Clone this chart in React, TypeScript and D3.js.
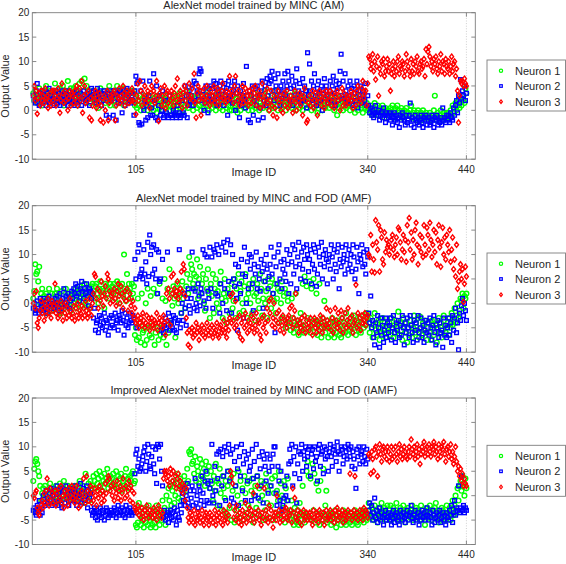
import React from 'react';
import * as d3 from 'd3';

// ---- chart text ----
const panelTitles = [
  'AlexNet model trained by MINC (AM)',
  'AlexNet model trained by MINC and FOD (AMF)',
  'Improved AlexNet model trained by MINC and FOD (IAMF)',
];
const seriesNames = ['Neuron 1', 'Neuron 2', 'Neuron 3'];
const seriesColors = ['#00ff00', '#0000ff', '#ff0000'];
const xTicks = [105, 340, 440];
const yTicks = [-10, -5, 0, 5, 10, 15, 20];
const xDomain = [0, 449];
const yDomain = [-10, 20];

// ---- AM ----
const am_n1 = [
  3.5,2,4,2.5,1.5,3,4.5,2,3,1,2.5,4,3,5,2,3.5,1.5,4,2.5,3,
  4,2,5.5,3,1.5,3.5,2.5,4.5,2,3,5,1,3.5,4,2,6,3,2.5,4.5,1.5,
  3,4.5,2,5,3.5,1,4,5.5,2.5,6,3,4,6.5,2,5,3.5,4,2.5,1.5,3,
  2.5,4,1.5,3,2,3.5,0.5,2,4.5,1,3,2.5,4,1.5,3,2,3.5,5,1,2.5,
  3,4,2,1,3.5,5,2.5,1.5,4,3,2,4.5,1,3,2.5,4,1.5,3.5,2,4,
  2,3.5,4,1,2.5,0.5,2,1,3,0,1.5,2.5,0.5,3,1,2,0,1.5,3,0.5,
  1,2,0,2.5,1.5,-0.5,3,1,0.5,2,1.5,0,2.5,1,3,0.5,1.5,2,0,1,
  2,0.5,1,3,1.5,0,2.5,1,3.5,0.5,2,1.5,0,3,1,2,4,0.5,1.5,2.5,
  1,3,0,2,1.5,2.5,0.5,3.5,1,2,0,1.5,3,0.5,2.5,1,2,4,0,1.5,
  2,0.5,1.5,3,1,0,2.5,1,3.5,0.5,2,1.5,0,1,3,2,0.5,2.5,1,0,
  1.5,0,2,3,0.5,1,2.5,-0.5,1.5,3,0,2,1,2.5,0.5,1.5,3,1,0,2,
  1,2.5,0,1.5,3.5,0.5,2,1,3,0,1.5,2.5,1,0.5,2,4,1,3,1.5,0,
  2,1,3,0.5,1.5,4,2.5,1,0,2,3,1.5,0.5,2.5,1,3.5,0,2,1,1.5,
  3,1,0.5,2,1.5,3.5,0,2.5,1,2,0.5,3,1.5,0,2,1,2.5,4,0.5,1.5,
  1,2.5,0,1.5,3,0.5,2,1,-0.5,2,3,1,1.5,0,2.5,1,0.5,3,1.5,2,
  0.5,2,1,3,1.5,0,2.5,1,-1,2,0.5,1.5,3,1,0,2,1.5,0.5,2.5,1,
  1.5,0,2,1,0.5,2.5,-0.5,1,2,0,1.5,3,0.5,1,-0.5,2,1,0.5,1.5,0,
  0.5,-0.5,1,0,-1,0.5,1.5,-0.5,0,1,-1,0.5,0,-0.5,1,0,-1.5,0.5,0,-0.5,
  0,-1,0.5,-0.5,1,-1.5,0,0.5,-1,1,-0.5,0,-1,0.5,-1.5,-0.5,0,-1,0.5,-0.5,
  -0.5,-1,0,1,-1.5,-0.5,0,-1,-2,-0.5,0,-1.5,-1,-0.5,-2,0,-1,-1.5,-0.5,-1,
  -1,-1.5,-0.5,-2,-1,-1.5,0,3,-1,-2,-0.5,-1.5,-1,0,-1.5,-2,-0.5,-1,-1.5,-0.5,
  -1,-0.5,-1.5,0,-1,1,-0.5,0.5,1.5,0,1,2,0.5,2.5,1,3,2,1.5,4.5,3.5,
];
const am_n2 = [
  3,2,1.5,4,5.5,2.5,1,3.5,2,4,1.5,3,2.5,1,3.5,2,4.5,1.5,3,2,
  2.5,1,3,4,2,1.5,3.5,1,2.5,4,2,3,1.5,3.5,2.5,1,4,2,3,1.5,
  2,3.5,1,2.5,4,1.5,3,2,3.5,1,2.5,4,3,1.5,2,3.5,2.5,1,3,4.5,
  3,4,2,3.5,1.5,4.5,3,2.5,4,1,3.5,2,4,3,-1,2.5,3.5,-1.5,4,2,
  3,-1,4,2.5,-2,3.5,1.5,4,3,2,-0.5,3.5,4,1,2.5,4.5,3,2,3.5,1.5,
  3,2,-1,4,7,5.5,6,-2.5,-3,4,-2.8,6,0,2,-2,1,-1.5,3,6,-1,
  0.5,-1,7.5,2,-1.5,5,-2,1,3,-1,0,4,-1.5,-1,2,-0.5,-1,-1.5,3,-1,
  -1,-1.5,0,-1,-0.5,-1.5,1,-1,-0.5,-1.5,-1,2,-0.5,-1,5,3,-1.5,1,4,2,
  3,5,1,6,2,5.5,4,3,7.5,8.5,8,2,4,0,1.5,5,3,-0.5,4.5,2,
  5,3,4.5,6,2,5.5,1,4,3,5,6,2.5,4,1,5.5,3,4.5,-1,6,2,
  3,5,1.5,4,6,0,3.5,5,2,-1.5,4,1,3,5.5,2,0.5,9,3,-2,4,
  -2.5,3,5,-1,2,4.5,1,5,-2,3,0.5,4,6,-1.5,2,5,1,6.5,3,5.5,
  7,6,8,4,2,6.5,5,3,7.5,4,1,5,2.5,6,4,7.5,3,5,8,6,
  2,4.5,7,1,5,3,6,8.5,2.5,4,5.5,1.5,3.5,6.5,2,5,4,0.5,11.8,3,
  9.5,4,6,2,5,7.5,3,1,4.5,6,3.5,2,5,0,4,6.5,2.5,5,3,1.5,
  4,6,2,5,7,3.5,1,6,4.5,2,5.5,8,11.5,3,6,2.5,7.5,4,1.5,5,
  3,6,2,4.5,1,5,3.5,2,6,0.5,4,2.5,5,1.5,3,4,2,5.5,1,3,
  1,-0.5,0.5,-1,0,-1.5,-0.5,1,-1,-0.5,0,-2,-1,-0.5,-1.5,0.5,-1,-2.5,-0.5,-1,
  -1.5,-0.5,-2,-1,-3,-1.5,-0.5,-2,-1,-2.5,-1.5,-3.5,-1,-2,-0.5,-1.5,-2,-3,-1,-2.5,
  -2,-1,1.5,-3,-1.5,-2,-3.5,-1,-2,-2.5,-1.5,-3,-2,-1,-2.5,-3.5,-1.5,-2,-1,-3,
  -2,-1.5,-3,-2.5,-1,-2,-3.5,-1.5,-2,-1,-3,-2,-2.5,-1.5,-3,0.5,-2,-1.5,-2.5,-1,
  -2,-1,-2.5,-0.5,-1.5,-2,0.5,-1,1,2,-0.5,3,1.5,6.3,2.5,4,3,5,2,3.5,
];
const am_n3 = [
  3,5,2,4,-0.7,2.5,3.5,1,4,2,3,1.5,4.5,2.5,3,0.5,2,3.5,1,4,
  2,4,3,1,2.5,4.5,3,-0.5,2,5.5,3.5,1.5,4,2,3,0,2.5,4,1,3.5,
  3,1.5,4,2.5,5,1,3,4.5,2,6,-0.5,3,5,1.5,3.5,2,4,-1.5,2.5,-2,
  1,3,2,4,0.5,2.5,1.5,3.5,-2,1,2.5,-2.5,3,0,2,4,-2,1.5,3,2.5,
  2,3.5,4,-2,1,3,2.5,4.5,1.5,3,2,5,3.5,1,2.5,4,3,1.5,3.5,2,
  4.5,2,3.5,1.5,-0.8,3,5.5,2,6,4,1,3.5,2.5,5,1.5,3,4,2,0.5,3.5,
  5,2,4,1.5,3,6,2.5,-2.2,3.5,4.5,1,3,2,5,0.5,3.5,4,1.5,3,2,
  4,2.5,1,3.5,5,2,6.5,3,1.5,4,2.5,0.5,3.5,5,2,4,1,3,5.5,2.5,
  3,4.5,2,7.5,1.5,-1.5,3.5,5,2,4,-1,3,2.5,4.5,1.5,3,5,2,3.5,1,
  4,2,3,5,1.5,3.5,2.5,4.5,1,3,2,4,5.5,2.5,3,1.5,4,2,3.5,7,
  2.5,4,3,1.5,5,7,3.5,2,4,1,3,2.5,5,1.5,3.5,4.5,2,3,1,4,
  3,1.5,4.5,2,3.5,5,1,3,2.5,4,0.5,3,5.5,2,1,3.5,2.5,4.5,1.5,0,
  2,4,1,-1,3,0.5,2.5,-1.5,4,1.5,3,0,2,-0.5,3.5,1,2.5,4,0.5,2,
  1,3,2,-0.5,2.5,4,1.5,0,3,2,3.5,1,2.5,-1,3,4.5,2,-2.5,-2,1.5,
  3,1,2.5,4,0.5,2,3.5,1.5,-1,2.5,4,3,1,2,3.5,0.5,2.5,4,1.5,3,
  2,4,1,3.5,2.5,0.5,3,1.5,4,2,3,0,2.5,4.5,1,3.5,2,1,3,2.5,
  1.5,3,4,2,0.5,3.5,2.5,1,4,5,2,3,1.5,4.5,6,2.5,3.5,4,1,5.5,
  11,10.5,8.5,9.5,11.5,8,10,6.3,9,11,3,8.5,7.5,10,9.5,10.5,7,8,9,10.5,
  8,9.5,4,7.5,8.5,10,7,9,8,10,11,7.5,9,8.5,10,9.5,7,8,11.5,10,
  9,8,7,10.5,8,9.5,7.5,10,9,11,8,7.5,9.5,10,8.5,9,10.5,7,12.5,9.5,
  12,13,11,9,10,8,10.5,9.5,11,8.5,7.5,10,9,11.5,8,10,9.5,7.5,10.5,9,
  8.5,10,7.5,9,11,8,9.5,10,7,8.5,4,-2.5,3,6,5.5,6,5,6.5,5.5,5,
];

// ---- AMF ----
const amf_n1 = [
  1,2.5,8,6,6.5,4.5,7.5,0,2,3,-1,1.5,0.5,2,-2,1,3,0,-1.5,2,
  0.5,-1,2,1,3,-0.5,1.5,0,-2,2.5,1,-1,0,3,1.5,-0.5,2,0.5,-1.5,1,
  2,0,1.5,3,-1,2.5,0.5,3.5,1,2,-0.5,1.5,4,0,2.5,1,3,-1,2,3.5,
  4,2.5,1,3.5,4,2,0,3,4.5,1.5,3,2.5,-1,4,3.5,2,1,3,4,2.5,
  3.5,2,4,1,3,4.5,2.5,0,3.5,2,4,1.5,10,3,0.5,6,2.5,4,3,1,
  4,2,3.5,-6.5,-5,-7.5,1,-7,-4,-8,2,-6,-5.5,-8.5,0,-7.5,3,-5,-6.5,1.5,
  -7,-4.5,3,-8.5,-6,2,-5,-7.5,4,-6.5,-5,1,-7,5,0.5,-8.5,3,-6,7,-4,
  2,-0.5,3.5,1,-7,2.5,4,0,1.5,3,-2,4.5,1,2,-1,3.5,6,2,9.5,5,
  8,7,4,6,3,5.5,9,1,5,7.5,2,4,6,0,-1.5,5,3,7,2,-3,
  4,1.5,6,-2,3,5,0,2.5,-1,4,6.5,1,-3,2,5,0.5,-4,3,1.5,-2,
  2,4,-1,0.5,5,-3,3,1,6,-2,2.5,4.5,0,-1.5,3.5,6,1,-3,2,4,
  0,3,-2,5,1.5,-3.5,2,4,0.5,-1,6,3,-2.5,1,4.5,0,2.5,-3,5,1,
  3.5,-1,5,2,0.5,4,-2,1,3,-4,2.5,0,4.5,-3,1.5,3,-5,2,0.5,-4,
  -4,-5.5,1,-3,-6,-4.5,2,-5,-3.5,-6.5,-4,-2,-5,4,-6,5.5,-4.5,3.5,-3,-5,
  4.5,-6,3,-4,5,-5,-3.5,2,-6.5,-4,4,-5,-7,-3,-4.5,0.5,-6,-5,-3.5,-7,
  -5,-4,-6.5,-3,-5.5,-7,-4,-6,-3.5,-5,-6.5,-4.5,-7,-3,-5.5,-4,-6,-2,-5,-6.5,
  -4,-5.5,-3,-6,-4.5,-2.5,-5,-6.5,-3.5,-4,-5.5,-3,-6,-4,-2.5,-5,-3.5,-4.5,-2,-3,
  -4,-6,-3,-5,-7,-4.5,-2,-5.5,-6.5,-4,-3.5,-7.5,-5,-6,-3,-5.5,-4,-7,-6,-5,
  -5.5,-4,-6.5,-3,-5,-7,-4.5,-6,-3.5,-5,-1.7,-6.5,-4,-5.5,-7.5,-3,-5,-6,-4,-8,
  -5,-6.5,-3.5,-4.5,-7,-5,-2.5,-6,-4,-5.5,-3,-7,-2.7,-5,-6.5,-4,-5.5,-3.5,-6,-7.5,
  -5,-4,-6,-7.5,-3.5,-5,-6.5,-3.4,-4.5,-8,-5,-3,-6,-4,-7,-5.5,-2.5,-4.5,-6,-5,
  -4,-6.5,-3,-5,-2,-4.5,-3.5,-1,-4,-2.5,0,-3,-1.5,1,0.5,2,-1,1.5,1,2,
];
const amf_n2 = [
  -1,0,-2,-1.5,0.5,-1,-2,1,-0.5,0,-1.5,1,-1,0.5,-2,-0.5,1.5,0,-1,0.5,
  0,-1,1,-0.5,1.5,0,-1.5,2,0.5,-1,1,3,0,1.5,-0.5,2,1,-1,0.5,2.5,
  1,3,2,4,1.5,3.5,2,0.5,3,4.5,2.5,1,3,2,4,1.5,-0.5,3,2.5,1,
  2,-3,-1,-5.5,-4,-3.5,-6,-2.5,-4.5,-3,-5,-4,-2,-5.5,-3.5,-4,-6.5,-3,-5,-2.5,
  -4.5,-3,-5,-2,-4,-3.5,-5.5,-2.5,-3,-4,-1.5,-3.5,-6.5,-2,-4.5,-3,-5,-4,-2,-3.5,
  -4,-2.5,-3,9,5,-5,10.5,12,5.5,6,7,5,11,6,8.5,4,12.5,5.5,14,10,
  11.5,6,12,7,5,11,2,10.5,4.5,5,-5.5,9,-6,-4.5,-3,-5,10.5,-2,-5.5,-3.5,
  -4,-5,-2.5,-5.5,-3,-6,-4,-3.5,11,-5,-2,0,-3.5,2,-1,-4.5,1,3,-0.5,-2,
  1,10.5,3,-1,2.5,0,-1.5,4,1.5,-0.5,3,2,11,0.5,10,-1,9.5,2.5,1,11.5,
  3,9.5,-1,11,10.5,2,12,1.5,10,-2,4,11.5,0,12.5,3,10.5,-1.5,13,4.5,2,
  12,-2,10,5,3.5,8,1,-5.5,7.5,4,2,9,6,-3,11.5,5.5,0,8.5,3,10,
  7,9.5,4,-1.5,8,6,10.5,3,7.5,5,2.5,9,6.5,-1,8,4.5,10,7,3,5.5,
  8,11.5,6,2,9.5,-6,7.5,4,10.5,12,5,8.5,3,7,9,6,4.5,11,8,2,
  10,4,8.5,12,6,11,7.5,3,9.5,12.5,8,5,10.5,7,11.5,9,4.5,12,10,6.5,
  9,11,4,8,12,7,10.5,3.5,6,11.5,9.5,8,12.5,5,10,7.5,11,9,4,8.5,
  10,7,12,9.5,5,11,8,6.5,10.5,12,3,9,7.5,11.5,8.5,10,6,12,9,7,
  11,8,10,6.5,12,9.5,5,7,11.5,8.5,2,10,9,12,7.5,10.5,8,6,11,9.5,
  -2,-4,1.5,-5,-3.5,-7,-8.5,-4,-6,-2.5,-5,-9,-3,-6.5,-4.5,-8,-5.5,-3,-7,-4,
  -6,-4.5,-3,-7.5,-5,-2.5,-6,-8,-4,-5.5,-3.5,-7,-4.5,-6.5,-2.5,-5,-8.5,-4,-6,-3,
  -5,-7,-2.5,-4.5,-6,-8,-3.5,-5.5,-4,-7.5,-2.5,-6,-5,-3,-7,-4.5,-8,-5.5,-3.5,-6,
  -4,-6.5,-3,-5,-7.5,-4.5,-2.5,-6,-8.5,-5,-3.5,-7,-4,-6,-5.5,-9,-3,-6.5,-4.5,-7,
  -5,-3,-6.5,-4,-8,-2.5,-5.5,-3,-1,-6,-4,-9.5,-2,-3.5,-0.5,1,-2.5,0,-1.5,-3.5,
];
const amf_n3 = [
  0,2,-1,2.5,-4,-5,-3,-1.5,0.5,-2,-1,-3.5,0,-2.5,-1,1,-2,-0.5,-3,0.5,
  -1.5,-0.5,4,-2,0,-3,-1,-2.5,0.5,-1.5,-3.5,-0.5,-2,0,-3,-1,-2.5,1,-1.5,-3,
  -2,-0.5,-3.5,-1,-2.5,0,-3,-1.5,-2,-0.5,-3,-1,-2.5,0.5,-1.5,-3,-2,1,-1,-2.5,
  0,2,6,5.5,1,3,-1,2.5,0.5,4.5,1.5,-0.5,2,3.5,1,6,5,2.5,0,1.5,
  2,0.5,3,1,-0.5,2.5,4,1.5,0,3.5,2,-1,1,2.5,0.5,3,-1.5,1,2,-0.5,
  -2,0.5,-3,-1,-4,-3.5,-2.5,-5,-4,-3,-4.5,-2,-3.5,-5,-4,-2.5,-4.5,-3,-5.5,-4,
  -3,-4.5,-5,-3.5,-4,-2,-5.5,-4,-3,-4.5,-3.5,-5,-2.5,-4,-6.5,2,-3.5,3,1,-4.5,
  5.5,2,6,3,1.5,2.5,4.5,1,2,3,6.5,2.5,8,7,1.5,-3,-6,-8.5,-5.5,-9,
  -6,-5,-7,-5.5,-6.5,-4,-6,-5,-7.5,-5.5,-6,-4.5,-6.5,-5,-7,-6,-4,-5.5,-6.5,-5,
  -6,-4.5,-7,-5,-6,-5.5,-4,-6.5,-7,-5,-4.5,-6,-5.5,-3.5,-6,-5,-7,-4,-5.5,-3,
  1.5,-4,2,-3.5,-5,0.5,-4.5,-3,-6,-2.5,-7,-4,-7.5,-3,-5,-2,-4.5,-6,-3.5,-5.5,
  -4,-2.5,-5,-3,-6,-4.5,-2,-5.5,-3.5,-4,-6.5,-7.5,-3,-5,-2.5,-4,-6,-1,-3.5,0.5,
  -2,1,-4.5,-3,0,-5,-3.5,-2,-4,-1.5,-5.5,-3,-4.5,-2.5,-6,-3.5,-4,-5,-3,-2.5,
  -1,-4,-0.5,-5,-3,-1.5,2,-4.5,-3.5,-6,-4,-5,-3,-5.5,-4.5,-2.5,-6,-3.5,-5,-4,
  -5.5,-3,-4.5,-6.5,-4,-3,-5,-6,-3.5,-4.5,-5.5,-2.5,-4,-6,-3,-5,-4.5,-1,-3.5,-5,
  -4,-1.5,-5.5,-3,-6,-4.5,-1,-3.5,-5,-2,-4,-5.5,-1.5,-3,-6,-4.5,-2,-5,-3.5,-1,
  -4.5,-3,-5,-2.5,-6,-4,-3.5,3.8,-5,-2,-4.5,-3,-5.5,-2.5,-4,-3.5,-2,-4.5,-3,-2.5,
  10,9.5,14,6.5,12,9,6.3,17,12.5,11,16,6.5,15,13.5,9,8,14.5,10.5,13,11.5,
  12,10,11.5,13,14,11,9.5,12,13.5,10,15.5,15,12.5,9,11,14,10.5,13,8.5,16,
  12.5,17.5,11,14.5,9,13,10,15,16.5,12,8,11.5,14,10.5,13.5,9.5,16,12,10,15.5,
  14,11,16.5,13,9.5,12,15,10.5,14.5,8,13,16,11.5,7.5,12.5,15.5,10,13.5,9,14,
  12,10.5,15,8.5,11,13.5,7,9,5.5,12,3,4.5,6.5,8,5,7,0.3,4,7.5,5.5,
];

// ---- IAMF ----
const iamf_n1 = [
  3,5.5,7,7.5,6.5,5,4,2,-1,0.5,1.5,-0.5,2,0,1,-1.5,0.5,2.5,-1,1,
  0,1.5,-1,2,0.5,-0.5,1,2.5,-1.5,0,1.5,3,-0.5,1,0,2,-1,0.5,1.5,-0.5,
  1,0,2,-1,0.5,1.5,0,3,-0.5,1,2,0.5,-1.5,4.5,1,0,2.5,-1,3,1.5,
  2,4,3,1.5,4.5,2.5,3.5,5,2,4,1,3,4.5,2.5,3.5,5.5,1.5,3,4,2,
  3.5,4.5,2,3,5,1.5,4,2.5,3.5,4.5,1,3,2,4,5.5,2.5,3.5,1.5,4,3,
  4.5,5,2.5,3,-6,-6.5,-5.5,-1.5,-4,-6,-2.5,-5,-6.5,-3,-5.5,-4,-6,-2,-5,-6.5,
  -4.5,-6,-3,-5.5,-6.5,-2,-5,-4,-6,-3.5,-5,-1,-4.5,-2.5,-6,0,-3,1.5,-1,2,
  -2,1,3,-1.5,0,2.5,4.5,-0.5,1.5,3.5,-1,2,0.5,4,2.5,1,5.5,3,9,8.5,
  9.5,6.5,7,4.5,8,3,6,5,2.5,7.5,4,6.5,3.5,5.5,2,7,4.5,3,6,1.5,
  5,2.5,-1,4,1,6.5,3,-2,2.5,5.5,0.5,-3,4,1.5,-0.5,3,-4,2,5,-2.5,
  3.5,-5,1,4.5,-5.5,2,-3,0,5,-4.5,3,-1.5,1.5,-5,4,0.5,-3.5,2.5,-2,3,
  -4,1,3.5,-5.5,0,2,-2.5,4,-4,1.5,-1,3,0,-5,2.5,-3,4.5,-1.5,1,-4.5,
  2,-2,3.5,-5,0.5,4,-3.5,1,-1,5,-4,2.5,0,-2.5,3,-5.5,1.5,-1,3.5,-4,
  -3,-5,-1,-4,-6,-2.5,-4.5,-5.5,-3,-6,-1.5,-4,-5,2,-3.5,-5.5,-4,5,7,4,
  -4.5,3.5,-5,6.5,-3,4.5,-5.5,2.5,-4,1,-6,3,-3.5,-5,5.5,-4,-2,1,-5.5,-4,
  -5,-3.5,-6,-4,-4.5,-5.5,-3,-6.5,-4,-5,-3.5,-4.5,-6,-5,-3,-5.5,-4,-6,-3.5,-5,
  -4,-5.5,-3.5,-6,-4.5,-5,-3,-4,-5.5,-6,-3.5,-4.5,-5,-4,-3,-5.5,-4.5,-3.5,-5,-4,
  -1.5,-3,-4.5,-2.5,-3.5,-5,-2,-4,-3,-5.5,-2.5,-3.5,-4.5,-1.5,-3,-4,-2.5,-5,-3.5,-2,
  -4,-3,-2,-5,-3.5,-2.5,-4.5,-3,-1.5,-4,-3.5,-5,-2.5,-3,-4.5,-2,-3.5,-5.5,-3,-4,
  -2.5,-3.5,-4.5,-3,-2,-5,-3.5,-4,-2.5,-3,-4.5,-3.5,-5,-2,-4,-3,-4.5,-6,-3.5,-2.5,
  -3,-4.5,-2,-3.5,-5,-3,-4,-2.5,-1.5,-4.5,-3,-5.5,-3.5,-4,-2.5,-3,-4.5,-3.5,-5,-2,
  -3.5,-4,-2.5,-5,-3,-1,-4,-2,0,-3.5,1.5,-1,2,3,1,4,2.5,0,3.5,1.5,
];
const iamf_n2 = [
  -3,-2.5,-3.5,-4,-2,-3,-1,-4,-2.5,-3.5,0,-1.5,-2,1,-0.5,-1.5,0.5,-1,1.5,-2,
  0,-1.5,1,-0.5,2,-2,0.5,-1,1.5,-2.5,0,1,-1.5,2,-0.5,0.5,-2,1,-1,0,
  1.5,-1,0.5,2,-2,0,1,-0.5,2.5,-1.5,0.5,1.5,-1,0,2,-2.5,1,-0.5,0.5,-3,
  -4,-3.5,-2.5,-4.5,-3,-5,-3.5,-4,-2.5,-4.5,-3,-3.5,-5,-4,-2.5,-3,-4.5,-3.5,-4,-3,
  -3.5,-4,-2.5,-3,-4.5,-3.5,-2,-4,-3,-3.5,-2.5,-4,-3,-4.5,-2,-3.5,-3,-4,-2.5,-3.5,
  -4,-3,-3.5,4.5,8.5,9.5,6,7.5,5,5.5,6.5,8,9,10,5,7,10.5,8.5,6,5.5,
  8,10,6.5,4.5,9.5,2.5,10.5,10,7.5,10.5,5,2,-4.5,-3,-5,-4,-3.5,-5.5,-4,-3,
  -4.5,-3.5,-5,-2.5,-4,-6,-3,-4.5,-5,-2,-3.5,0.5,-1,1.5,-2,0,2.5,-1.5,-2.5,1,
  -0.5,2,-2,1,3.5,-1.5,0,-2.5,2,1,-1,4,0.5,-2,3,5,-1,2.5,-1.5,1.5,
  3,10.5,0,-1.5,6,1,8.5,3.5,9,-2,9.5,2,8,4,10,-1,9,5,10.5,3,
  8.5,-0.5,9.5,-1.5,7,2,10,5.5,-2,8,4,10.5,1,6.5,9,-1,7.5,3,8.5,5,
  6,-1,9.5,3.5,7,0,10.5,4,-0.5,8,5.5,2,9,-1.5,7.5,6,3,8.5,0.5,5,
  7.5,2,6,8.5,10,10,0.5,-2,6,3,-1,5,-3,-2,-0.5,2,0,4,-1,6.5,
  9.5,7,10.5,2,8,4.5,10,-1.5,6.5,9,3.5,8.5,10.5,5,9,7.5,10,6,8,9.5,
  10,4,8.5,9.5,5.5,10,7,8,3,9.5,10.5,6,8.5,9,4.5,10,7.5,9.5,8,5,
  9,10.5,8,6,9.5,10,8.5,7,11,9,5,8.5,10,9.5,6.5,8,10,9,7.5,10.5,
  9.5,8,10,6,9,7.5,5.5,1.5,9.5,8,10,6.5,8.5,9,7,10,8,6.5,9.5,7.5,
  -3,-1.5,-4,-2,-5,-3.5,-0.5,-4.5,-3,-5.5,-4,-2.5,-5,-3.5,-4.5,-6,-4,-3,-5,-4.5,
  -3.5,-5,-4,-6,-4.5,-3,-5.5,-4,-3.5,-5,-4.5,-6,-3,-4,-5,-3.5,-4.5,-5.5,-4,-3,
  -5,-4,-3.5,-2,-4.5,-5.5,-4,-3,-5,-4.5,-3.5,-6,-4,-5,-3,-4.5,-3.5,-5,-4,-2.5,
  -4,-5,-3.5,-4.5,-6,-3,-4,-5.5,-4.5,-3.5,-5,-4,-3,-5.5,-4.5,-3.5,-5,-4,-6,-3.5,
  -4.5,-5,-3,-4,-2,-5.5,-3.5,-1,-4,-2.5,-3,2,-3.5,-2.5,4,-3,-2,-3.5,-2.5,-3,
];
const iamf_n3 = [
  0,-0.5,0.5,1,-2.5,-3.5,-4,-3,-2,-1,-2.5,0.5,-1.5,1,3.5,-0.5,-2,1.5,-1,0.5,
  -1.5,0,1,-2,0.5,-1,1.5,-0.5,2,-1.5,0,-2.5,1,-0.5,0.5,-2,1.5,-1,0,2,
  -0.5,1,-1.5,0,2,-1,-2.5,0.5,-2,1,-0.5,3.5,0,-1.5,4,1,-1,0.5,2,-1.5,
  0.5,-1,1.5,0,-2,1,-0.5,2,0.5,-1.5,1,0,-1,2.5,0.5,3,4,3.5,1,2,
  0,2.5,-1,1.5,0.5,3,-0.5,1,2,-1,0.5,3.5,1.5,-0.5,2,0,1,3,-1,2,
  1,-1.5,0.5,-2.5,-3,-3.5,-2,-4,-3,-4.5,-2.5,-3.5,-5,-3,-4,-2,-3.5,-4.5,-3,-4,
  -3.5,-4.5,-2.5,-4,-3,-5,-3.5,-2,-4,-3,-4.5,-3.5,3.5,5,4.5,5,3,4,2,5.5,
  4.5,3,5,2.5,4,1.5,3.5,4.5,2,3,1,2.5,0.5,2,-1,1.5,-2.5,-4.5,-5.5,-3.5,
  -5,-4,-5.5,-3,-6,-4.5,-5,-3.5,-4,-5.5,-4.5,-3,-5,-6,-4,-3.5,-5,-4.5,-6,-3.5,
  -5,-4,-5.5,-4.5,-3,-6,-4,-5,-3.5,-4.5,-5.5,-4,-6,-3,-5,-4.5,-3.5,-5.5,-4,-2,
  5,4,2.5,-4.5,-3,-5,-2,-4,-5.5,-3.5,-4.5,-6,-3,-5,-4,-1.5,-5.5,-3.5,-4.5,-2.5,
  -5,-3,-4,0.5,-5.5,-3.5,-4.5,2,-3,-5,-4,-6,-3.5,-4.5,1.5,-5,-3,-4,-5.5,-2,
  -4.5,-3,-5,-6.5,-4,-3.5,-5,0,-4,-3,-5.5,-4.5,-3.5,-5,-4,-3,-2.5,-4.5,-5,-3.5,
  -4,-3,-5.5,1.5,-3.5,-0.5,-4.5,-5,-3,-4,-5.5,-3.5,-6,-4,-3,-5,-4.5,-3.5,-5,-4,
  -3.5,-5,-4,-6,-3,-4.5,-5,-3.5,-4,-5.5,-3,-4.5,-4,-5,-3.5,-6,-4,-3,-5,-4.5,
  -4,-3,-5,-3.5,-4.5,-5.5,-3,-4,-2.5,-5,-3.5,-4.5,-4,-3,-5.5,-4,-3.5,-5,-4.5,-3,
  -4,4.5,-3.5,-5,-4,-3,4,-4.5,-3.5,-5,-4,-3,-4.5,-3.5,-5,-2.5,-4,-3,-3.5,-4.5,
  8.5,8,4.5,9,7.5,5,9.5,10,8,4,9,10.5,8.5,7,9.5,10,8,9,7.5,10,
  9,7,8.5,10,7.5,9.5,8,10,8.5,7,9,10.5,8,9.5,7.5,8.5,10,9,8,7.5,
  9,10,8,11.5,9.5,8.5,10,7.5,9,10.5,8,9.5,6.5,8.5,10,9,11,8,9.5,10,
  8.5,10.5,9,8,10,9.5,11,8.5,10,9,7.5,10.5,9,8,10,9.5,11,8.5,7,9.5,
  10,8,9,10.5,7.5,9,6.5,8,10,7,5,6,4,5.5,3,4.5,2,3.5,2.5,2,
];

const panelData = [
  [am_n1, am_n2, am_n3],
  [amf_n1, amf_n2, amf_n3],
  [iamf_n1, iamf_n2, iamf_n3],
];

// ---- layout ----
const W = 566;
const H = 564;
const plotLeft = 32.3;
const plotRight = 475.3;
const panelTops = [12.7, 205.7, 398];
const panelH = 146.5;
const FONT = '"Liberation Sans", Arial, Helvetica, sans-serif';
const TEXT = '#262626';
const AXIS = '#7d7d7d';

function Marker({ kind, cx, cy, color, s, sw }: { kind: number; cx: number; cy: number; color: string; s: number; sw: number }) {
  if (kind === 0) {
    return <circle cx={cx} cy={cy} r={2.35 * s} fill="none" stroke={color} strokeWidth={sw} />;
  }
  if (kind === 1) {
    const a = 1.85 * s;
    return <rect x={cx - a} y={cy - a} width={2 * a} height={2 * a} fill="none" stroke={color} strokeWidth={sw} />;
  }
  const hy = 2.6 * s;
  const hx = 2.0 * s;
  return (
    <path
      d={`M${cx},${cy - hy}L${cx + hx},${cy}L${cx},${cy + hy}L${cx - hx},${cy}Z`}
      fill="none"
      stroke={color}
      strokeWidth={sw}
    />
  );
}

function Panel({ idx }: { idx: number }) {
  const top = panelTops[idx];
  const bottom = top + panelH;
  const x = d3.scaleLinear().domain(xDomain).range([plotLeft, plotRight]);
  const y = d3.scaleLinear().domain(yDomain).range([bottom, top]);
  const series = panelData[idx];
  const midX = (plotLeft + plotRight) / 2;
  const legTop = top + 47.3;
  const legRows = [10.7, 26, 41.7];
  return (
    <g>
      {/* grid */}
      {xTicks.map((t) => (
        <line key={'g' + t} x1={x(t)} x2={x(t)} y1={top} y2={bottom} stroke="#c4c4c4" strokeWidth={0.8} strokeDasharray="1,1.6" />
      ))}
      {/* data */}
      {series.map((vals, si) => (
        <g key={'s' + si}>
          {vals.map((v, i) => (
            <Marker key={i} kind={si} cx={x(i + 1)} cy={y(v)} color={seriesColors[si]} s={1} sw={1.4} />
          ))}
        </g>
      ))}
      {/* box */}
      <rect x={plotLeft} y={top} width={plotRight - plotLeft} height={panelH} fill="none" stroke={AXIS} strokeWidth={0.9} />
      {/* y ticks */}
      {yTicks.map((t) => (
        <g key={'y' + t}>
          <line x1={plotLeft} x2={plotLeft + 4} y1={y(t)} y2={y(t)} stroke={AXIS} strokeWidth={0.9} />
          <line x1={plotRight - 4} x2={plotRight} y1={y(t)} y2={y(t)} stroke={AXIS} strokeWidth={0.9} />
          <text x={plotLeft - 3} y={y(t) + 3.6} textAnchor="end" fontSize={10} fill={TEXT} fontFamily={FONT}>
            {t}
          </text>
        </g>
      ))}
      {/* x ticks */}
      {xTicks.map((t) => (
        <g key={'x' + t}>
          <line x1={x(t)} x2={x(t)} y1={bottom} y2={bottom - 4} stroke={AXIS} strokeWidth={0.9} />
          <line x1={x(t)} x2={x(t)} y1={top} y2={top + 4} stroke={AXIS} strokeWidth={0.9} />
          <text x={x(t)} y={bottom + 13.4} textAnchor="middle" fontSize={10} fill={TEXT} fontFamily={FONT}>
            {t}
          </text>
        </g>
      ))}
      {/* labels */}
      <text x={midX} y={top - 4.1} textAnchor="middle" fontSize={11} fill={TEXT} fontFamily={FONT}>
        {panelTitles[idx]}
      </text>
      <text x={midX} y={bottom + 16.8} textAnchor="middle" fontSize={11} fill={TEXT} fontFamily={FONT}>
        Image ID
      </text>
      <text
        transform={`translate(8.6,${(top + bottom) / 2}) rotate(-90)`}
        textAnchor="middle"
        fontSize={11}
        fill={TEXT}
        fontFamily={FONT}
      >
        Output Value
      </text>
      {/* legend */}
      <rect x={487} y={legTop} width={78.5} height={51} fill="#ffffff" stroke={AXIS} strokeWidth={0.9} />
      {seriesNames.map((name, si) => (
        <g key={'l' + si}>
          <Marker kind={si} cx={501} cy={legTop + legRows[si]} color={seriesColors[si]} s={0.7} sw={1.2} />
          <text x={515} y={legTop + legRows[si] + 4} fontSize={11} fill={TEXT} fontFamily={FONT}>
            {name}
          </text>
        </g>
      ))}
    </g>
  );
}

export default function App() {
  return (
    <svg
      width={W}
      height={H}
      viewBox={`0 0 ${W} ${H}`}
      style={{ position: 'absolute', left: 0, top: 0, background: '#ffffff' }}
    >
      <rect x={0} y={0} width={W} height={H} fill="#ffffff" />
      {[0, 1, 2].map((i) => (
        <Panel key={i} idx={i} />
      ))}
    </svg>
  );
}
